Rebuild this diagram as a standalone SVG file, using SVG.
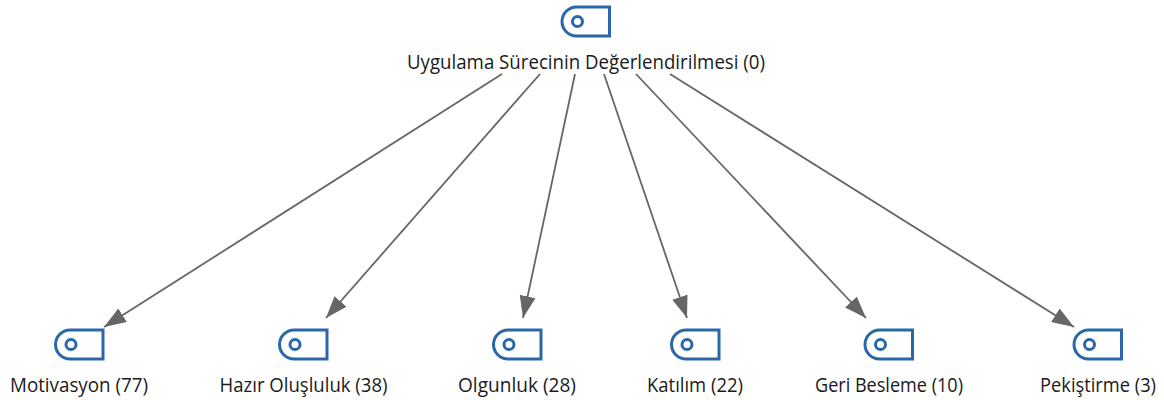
<svg xmlns="http://www.w3.org/2000/svg" width="1164" height="400" viewBox="0 0 1164 400">
<style>
.l{font-family:"Open Sans","Noto Sans","Liberation Sans",sans-serif;font-size:19.5px;fill:#1a1a1a;text-anchor:middle}
.e{stroke:#666;stroke-width:1.8;fill:none;marker-end:url(#a)}
.i{fill:none;stroke:#2a67a8;stroke-width:3}
</style>
<defs>
<marker id="a" markerUnits="userSpaceOnUse" markerWidth="23" markerHeight="18" refX="22" refY="9" orient="auto"><path d="M0,1L22,9L0,17L0,1Z" fill="#666"/></marker>
<g id="t"><path class="i" d="M14,1H47V30H14A14.5,14.5 0 0 1 14,1Z"/><circle class="i" cx="15" cy="15.500" r="5"/></g>
</defs>
<rect width="1164" height="400" fill="#fff"/>
<g id="connectors">
<path class="e" d="M502,74L104,327"/>
<path class="e" d="M540,74L326,318"/>
<path class="e" d="M575,74L523,318"/>
<path class="e" d="M604,74L687,318"/>
<path class="e" d="M636,74L866,318"/>
<path class="e" d="M670,74L1074,327"/>
</g>
<g id="n0"><use href="#t" x="562.500" y="6"/><text class="l" x="586" y="69" textLength="358" lengthAdjust="spacingAndGlyphs">Uygulama Sürecinin Değerlendirilmesi (0)</text></g>
<g id="n1"><use href="#t" x="56" y="329"/><text class="l" x="79" y="392" textLength="138" lengthAdjust="spacingAndGlyphs">Motivasyon (77)</text></g>
<g id="n2"><use href="#t" x="280" y="329"/><text class="l" x="303.500" y="392" textLength="168" lengthAdjust="spacingAndGlyphs">Hazır Oluşluluk (38)</text></g>
<g id="n3"><use href="#t" x="494" y="329"/><text class="l" x="517" y="392" textLength="118" lengthAdjust="spacingAndGlyphs">Olgunluk (28)</text></g>
<g id="n4"><use href="#t" x="672" y="329"/><text class="l" x="695" y="392" textLength="96" lengthAdjust="spacingAndGlyphs">Katılım (22)</text></g>
<g id="n5"><use href="#t" x="865.500" y="329"/><text class="l" x="889" y="392" textLength="148" lengthAdjust="spacingAndGlyphs">Geri Besleme (10)</text></g>
<g id="n6"><use href="#t" x="1074.500" y="329"/><text class="l" x="1098" y="392" textLength="116" lengthAdjust="spacingAndGlyphs">Pekiştirme (3)</text></g>
</svg>
